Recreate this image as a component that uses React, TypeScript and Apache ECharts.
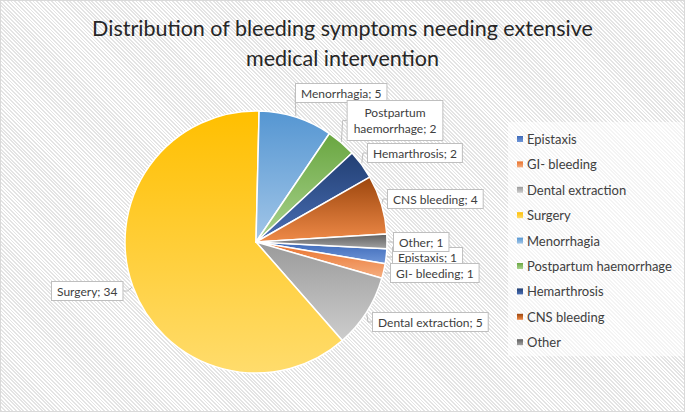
import React, { useEffect, useRef } from "react";
import * as echarts from "echarts";

const categories = [
  "Epistaxis",
  "GI- bleeding",
  "Dental extraction",
  "Surgery",
  "Menorrhagia",
  "Postpartum haemorrhage",
  "Hemarthrosis",
  "CNS bleeding",
  "Other",
];
const values = [1, 1, 5, 34, 5, 2, 2, 4, 1];
const labelNames = [
  "Epistaxis",
  "GI- bleeding",
  "Dental extraction",
  "Surgery",
  "Menorrhagia",
  "Postpartum\nhaemorrhage",
  "Hemarthrosis",
  "CNS bleeding",
  "Other",
];

// gradient (top, bottom) per slice — styling
const topColors = ["#3d69b8", "#e8702a", "#9a9a9a", "#ffbf00", "#5596d2", "#69a640", "#223f73", "#9c460d", "#5e5e5e"];
const bottomColors = ["#7097d8", "#f5ae80", "#cdcdcd", "#ffdc6c", "#a2c6e8", "#aad38f", "#4a6fb5", "#ef8a48", "#a3a3a3"];

// label box anchors (layout only)
const labelAnchors: [number, number, string][] = [
  [393, 248, "left"],
  [391, 264, "left"],
  [373, 313, "left"],
  [52, 282, "left"],
  [296, 84, "left"],
  [395, 101, "center"],
  [368, 144, "left"],
  [388, 190, "left"],
  [394, 233, "left"],
];

export default function App() {
  const ref = useRef<HTMLDivElement>(null);
  useEffect(() => {
    if (!ref.current) return;
    const chart = echarts.init(ref.current, null, { renderer: "svg" });
    const data = categories.map((name, i) => ({
      name,
      value: values[i],
      itemStyle: {
        color: new echarts.graphic.LinearGradient(0, 0, 0, 1, [
          { offset: 0, color: topColors[i] },
          { offset: 1, color: bottomColors[i] },
        ]),
      },
      label: labelNames[i].includes("\n") ? { padding: [4, 6, 4, 6], lineHeight: 15.5 } : undefined,
    }));
    chart.setOption({
      animation: false,
      backgroundColor: "transparent",
      title: {
        text: "Distribution of bleeding symptoms needing extensive\nmedical intervention",
        left: "center",
        top: 8,
        textStyle: {
          fontFamily: "Lato",
          fontSize: 21.5,
          fontWeight: "normal",
          color: "#262626",
          lineHeight: 30,
        },
      },
      legend: {
        orient: "vertical",
        left: 508,
        top: 122,
        padding: [10, 12, 7, 9],
        backgroundColor: "rgba(255,255,255,0.6)",
        icon: "rect",
        itemWidth: 6,
        itemHeight: 6,
        itemGap: 11.4,
        itemStyle: { borderWidth: 0 },
        data: categories,
        textStyle: { fontFamily: "Lato", fontSize: 13, color: "#404040", lineHeight: 14, padding: [0, 0, 0, -1] },
      },
      series: [
        {
          type: "pie",
          center: [256, 242],
          radius: 131,
          startAngle: 357,
          clockwise: true,
          avoidLabelOverlap: false,
          itemStyle: { borderColor: "#ffffff", borderWidth: 1.5 },
          label: {
            show: true,
            position: "outside",
            formatter: (p: any) => labelNames[p.dataIndex] + "; " + p.value,
            fontFamily: "Lato",
            fontSize: 12,
            lineHeight: 14,
            color: "#404040",
            backgroundColor: "#ffffff",
            borderColor: "#bfbfbf",
            borderWidth: 1,
            padding: [2, 5, 2, 5],
          },
          labelLine: { show: true, length: 4, length2: 4, lineStyle: { color: "#bfbfbf", width: 1 } },
          labelLayout: (p: any) => {
            const a = labelAnchors[p.dataIndex];
            return { x: a[0], y: a[1], align: a[2], verticalAlign: "top" };
          },
          emphasis: { disabled: true },
          data,
        },
      ],
    });
    return () => chart.dispose();
  }, []);
  return (
    <div
      style={{
        position: "fixed",
        left: 0,
        top: 0,
        width: 685,
        height: 412,
        boxShadow: "inset 0 0 0 1px #d9d9d9",
        background:
          "repeating-linear-gradient(45deg, #ffffff 0px, #ffffff 1.3px, #e4e4e4 1.3px, #e4e4e4 2.6px)",
      }}
    >
      <div ref={ref} style={{ width: 685, height: 412 }} />
    </div>
  );
}
